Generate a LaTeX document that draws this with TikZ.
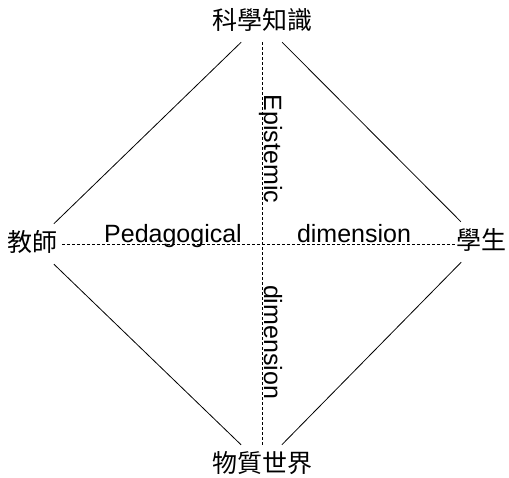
\documentclass[tikz,border=0pt]{standalone}
\usepackage{fontspec}
\setmainfont{Liberation Sans}
\newfontfamily\cjk{Noto Sans CJK TC}
\begin{document}
\begin{tikzpicture}[x=1pt,y=1pt,
  cjknode/.style={font=\cjk\fontsize{25}{28}\selectfont, inner sep=0pt, minimum height=40pt, minimum width=0pt, text height=19pt, text depth=3pt},
  lbl/.style={font=\fontsize{25}{29}\selectfont, inner sep=0pt, anchor=base},
  edge/.style={line width=0.8pt},
  dim/.style={line width=0.8pt, dash pattern=on 3pt off 2pt}]
\useasboundingbox (0,0) rectangle (509,478);
\node[cjknode, minimum width=116pt] (top) at (262,456) {科學知識};
\node[cjknode, minimum width=58pt] (left) at (33,234) {教師};
\node[cjknode, minimum width=50pt] (right) at (481,236) {學生};
\node[cjknode, minimum width=116pt] (bottom) at (262,13) {物質世界};
\draw[edge] (top) -- (left);
\draw[edge] (top) -- (right);
\draw[edge] (bottom) -- (left);
\draw[edge] (bottom) -- (right);
\draw[dim] (top.south) -- (bottom.north);
\draw[dim] (left.east) -- (left.east -| right.west);
\node[lbl] (ped) at (173,235) {Pedagogical};
\node[lbl] (dimh) at (354,235) {dimension};
\node[lbl, rotate=-90] (epi) at (264,329) {Epistemic};
\node[lbl, rotate=-90] (dimv) at (264,136) {dimension};
\end{tikzpicture}
\end{document}
